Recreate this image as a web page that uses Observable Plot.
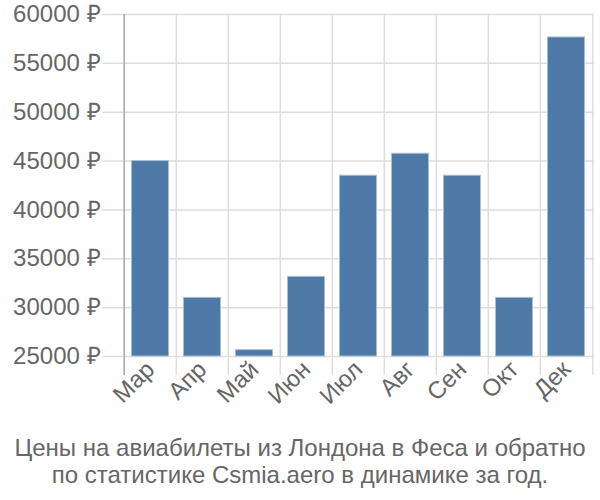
<!DOCTYPE html>
<html>
<head>
<meta charset="utf-8">
<script src="https://cdn.jsdelivr.net/npm/d3@7"></script>
<script src="https://cdn.jsdelivr.net/npm/@observablehq/plot@0.6"></script>
<style>
  body { margin: 0; background: #fff; }
  #caption { width: 600px; text-align: center; font-family: "Liberation Sans", Arial, sans-serif; font-size: 24px; line-height: 27px; color: #666; margin-top: 2px; }
</style>
</head>
<body>
<div id="chart"></div>
<div id="caption">Цены на авиабилеты из Лондона в Феса и обратно<br>по статистике Csmia.aero в динамике за год.</div>
<script>
const months = ["Мар","Апр","Май","Июн","Июл","Авг","Сен","Окт","Дек"];
const prices = [45000, 31000, 25650, 33150, 43500, 45750, 43500, 31000, 57650];
const yTicks = [25000, 30000, 35000, 40000, 45000, 50000, 55000, 60000];

const data = months.map((m, i) => ({month: m, price: prices[i]}));
const W = 600, ML = 122, MR = 6;
const bw = (W - ML - MR) / months.length;
const grid = "#dddddd";

const chart = Plot.plot({
  width: W, height: 432,
  marginLeft: ML, marginRight: MR, marginTop: 14, marginBottom: 76,
  x: {domain: months, padding: 0, axis: null, label: null},
  y: {domain: [25000, 60000], axis: null, label: null},
  style: {fontFamily: "Liberation Sans, Arial, sans-serif", fontSize: "24px", color: "#666", background: "#fff", overflow: "visible"},
  marks: [
    Plot.gridY({ticks: yTicks, stroke: grid, strokeOpacity: 1, strokeWidth: 1.5}),
    Plot.axisY({ticks: yTicks, tickSize: 20, tickPadding: 2, stroke: grid, strokeOpacity: 1, strokeWidth: 1.5, fill: "#666", fontSize: 24, label: null, tickFormat: d => d + " ₽"}),
    Plot.gridX({ticks: months, dx: -bw / 2, stroke: grid, strokeOpacity: 1, strokeWidth: 1.5}),
    Plot.gridX({ticks: [months[months.length - 1]], dx: bw / 2, stroke: grid, strokeOpacity: 1, strokeWidth: 1.5}),
    Plot.axisX({ticks: months, tickSize: 19, dx: -bw / 2, stroke: grid, strokeOpacity: 1, strokeWidth: 1.5, label: null, tickFormat: () => ""}),
    Plot.axisX({ticks: [months[months.length - 1]], tickSize: 19, dx: bw / 2, stroke: grid, strokeOpacity: 1, strokeWidth: 1.5, label: null, tickFormat: () => ""}),
    Plot.gridX({ticks: [months[0]], dx: -bw / 2, stroke: "#aaa", strokeOpacity: 1, strokeWidth: 1.5}),
    Plot.axisX({ticks: [months[0]], tickSize: 19, dx: -bw / 2, stroke: "#aaa", strokeOpacity: 1, strokeWidth: 1.5, label: null, tickFormat: () => ""}),
    Plot.barY(data, {x: "month", y1: 25000, y2: "price", fill: "#4e79a7", stroke: "#a9bfd8", strokeWidth: 1, insetLeft: 7.5, insetRight: 7.5}),
    Plot.axisX({ticks: months, tickSize: 0, tickPadding: 9, tickRotate: -45, fill: "#666", fontSize: 24, label: null})
  ]
});
document.getElementById("chart").appendChild(chart);
</script>
</body>
</html>
